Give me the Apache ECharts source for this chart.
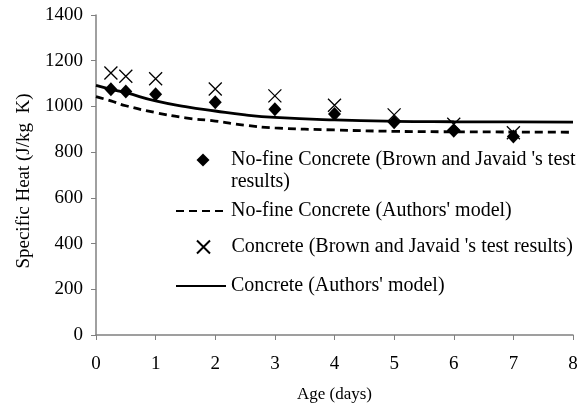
<!DOCTYPE html>
<html>
<head>
<meta charset="utf-8">
<script src="https://cdn.jsdelivr.net/npm/echarts@6/dist/echarts.min.js"></script>
<style>
html, body { margin: 0; padding: 0; background: #fff; }
#chart { width: 579px; height: 405px; }
</style>
</head>
<body>
<div id="chart"></div>
<script>
// test ages (days)
var testDays = [0.25, 0.5, 1, 2, 3, 4, 5, 6, 7];
var noFineTest = [1075, 1065, 1053, 1018, 988, 967, 931, 894, 868];
var concreteTest = [1146, 1132, 1121, 1076, 1046, 1005, 963, 922, 885];

// model curves
var modelDays = [0, 0.25, 0.5, 1, 1.5, 2, 2.5, 3, 4, 5, 6, 7, 8];
var noFineModel = [1043, 1024, 1003, 973, 950, 936, 918, 906, 897, 891, 889, 888, 887];
var concreteModel = [1092, 1075, 1060, 1024, 999, 980, 963, 952, 941, 935, 933, 932, 931];

var names = [
    "No-fine Concrete (Brown and Javaid 's test results)",
    "No-fine Concrete (Authors' model)",
    "Concrete (Brown and Javaid 's test results)",
    "Concrete (Authors' model)"
];

function pairs(xs, ys) {
    var out = [];
    for (var i = 0; i < xs.length; i++) {
        out.push([xs[i], ys[i]]);
    }
    return out;
}

var FONT = 'Liberation Serif';
var crossPath = 'path://M0,0L10,10M10,0L0,10';
var diamondPath = 'path://M5,0L10,5L5,10L0,5Z';

var myChart = echarts.init(document.getElementById('chart'));

var legendText = { fontFamily: FONT, fontSize: 20, color: '#000', lineHeight: 22 };

// one legend per entry, placed like the original
function legendAt(name, left, top, w, h, extra) {
    var l = {
        data: [name],
        left: left,
        top: top,
        itemWidth: w,
        itemHeight: h,
        itemGap: 0,
        padding: 0,
        textStyle: legendText
    };
    for (var k in extra) { l[k] = extra[k]; }
    return l;
}

var option = {
    animation: false,
    backgroundColor: '#fff',
    grid: { left: 96, right: 6, top: 15, bottom: 70, containLabel: false, outerBoundsMode: 'none' },
    legend: [
        legendAt(names[0], 196.5, 127, 46, 13, {
            icon: diamondPath,
            formatter: function () { return " \nNo-fine Concrete (Brown and Javaid 's test\nresults)"; }
        }),
        legendAt(names[1], 175, 200, 50, 14, { itemStyle: { opacity: 0 } }),
        legendAt(names[2], 194.5, 236, 46, 13, { icon: crossPath }),
        legendAt(names[3], 175, 275, 50, 14, { itemStyle: { opacity: 0 } })
    ],
    xAxis: {
        type: 'value',
        min: 0,
        max: 8,
        interval: 1,
        name: 'Age (days)',
        nameLocation: 'middle',
        nameGap: 51,
        nameTextStyle: { fontFamily: FONT, fontSize: 17, color: '#000' },
        axisLine: { lineStyle: { color: '#808080', width: 1.5 } },
        axisTick: { show: true, length: 5, inside: false, lineStyle: { color: '#808080' } },
        axisLabel: {
            margin: 20,
            fontFamily: FONT, fontSize: 19, color: '#000',
            formatter: function (v) { return String(v); }
        },
        splitLine: { show: false }
    },
    yAxis: {
        type: 'value',
        min: 0,
        max: 1400,
        interval: 200,
        name: 'Specific Heat (J/kg  K)',
        nameLocation: 'middle',
        nameGap: 62,
        nameTextStyle: { fontFamily: FONT, fontSize: 19, color: '#000', padding: [0, 12, 0, 0] },
        axisLine: { show: true, lineStyle: { color: '#808080', width: 1.5 } },
        axisTick: { show: true, length: 5, lineStyle: { color: '#808080' } },
        axisLabel: {
            margin: 13, fontFamily: FONT, fontSize: 19, color: '#000',
            formatter: function (v) { return String(v); }
        },
        splitLine: { show: false }
    },
    series: [
        {
            name: names[0],
            type: 'scatter',
            symbol: diamondPath,
            symbolSize: [13, 14],
            itemStyle: { color: '#000', opacity: 1 },
            data: pairs(testDays, noFineTest)
        },
        {
            name: names[1],
            type: 'line',
            smooth: true,
            symbol: 'none',
            lineStyle: { color: '#000', width: 2.8, type: [8, 5] },
            itemStyle: { color: '#000' },
            data: pairs(modelDays, noFineModel)
        },
        {
            name: names[2],
            type: 'scatter',
            symbol: crossPath,
            symbolSize: 13,
            itemStyle: { color: 'none', borderColor: '#000', borderWidth: 1.3, opacity: 1 },
            data: pairs(testDays, concreteTest)
        },
        {
            name: names[3],
            type: 'line',
            smooth: true,
            symbol: 'none',
            lineStyle: { color: '#000', width: 2.8 },
            itemStyle: { color: '#000' },
            data: pairs(modelDays, concreteModel)
        }
    ]
};

myChart.setOption(option);
</script>
</body>
</html>
